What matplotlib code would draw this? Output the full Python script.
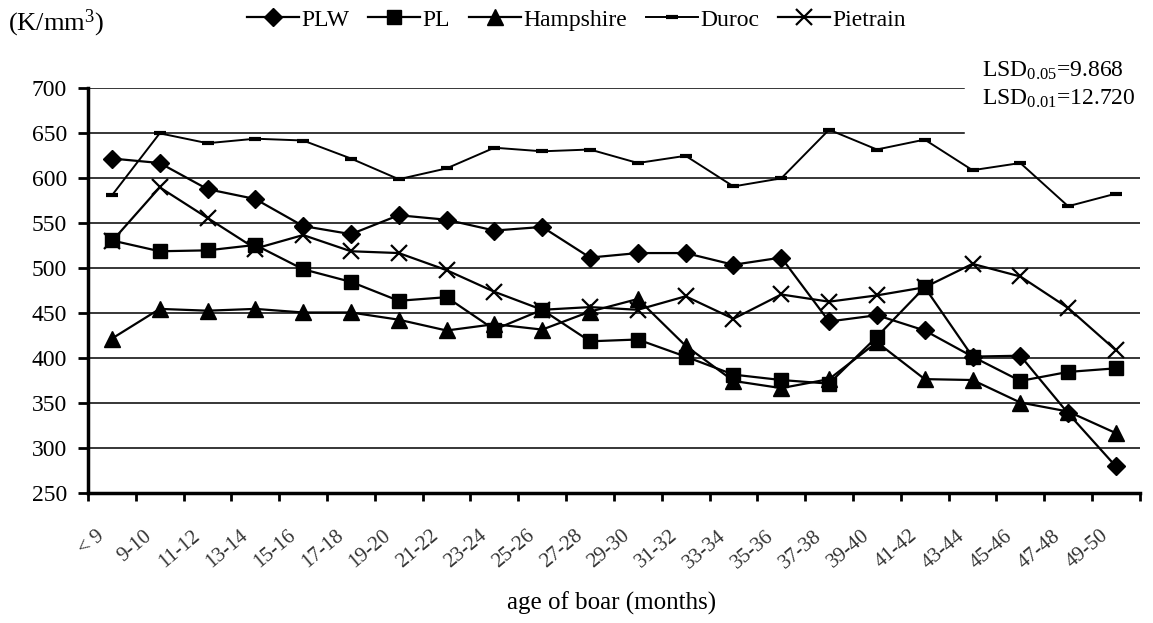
import matplotlib
matplotlib.use("Agg")
import matplotlib.pyplot as plt
from matplotlib.transforms import ScaledTranslation

plt.rcParams['font.family'] = ['Liberation Serif', 'DejaVu Serif']
plt.rcParams['mathtext.fontset'] = 'custom'
plt.rcParams['mathtext.rm'] = 'Liberation Serif'
plt.rcParams['mathtext.it'] = 'Liberation Serif'

ages = ['< 9', '9-10', '11-12', '13-14', '15-16', '17-18', '19-20', '21-22',
        '23-24', '25-26', '27-28', '29-30', '31-32', '33-34', '35-36', '37-38',
        '39-40', '41-42', '43-44', '45-46', '47-48', '49-50']

plw = [622, 617, 588, 577, 547, 538, 559, 554, 542, 546, 512, 517, 517, 504,
       512, 441, 448, 431, 402, 403, 339, 280]
pl = [531, 519, 520, 526, 499, 485, 464, 468, 432, 454, 419, 421, 402, 382,
      376, 372, 424, 479, 402, 375, 385, 389]
hampshire = [422, 455, 453, 455, 451, 451, 443, 431, 438, 432, 452, 466, 414, 375,
             367, 377, 418, 377, 376, 351, 341, 317]
duroc = [581, 650, 639, 644, 642, 622, 599, 611, 634, 630, 632, 617, 625, 591,
         600, 654, 632, 643, 609, 617, 569, 583]
pietrain = [530, 590, 556, 522, 537, 519, 517, 498, 474, 454, 457, 454, 469, 444,
            471, 463, 470, 479, 505, 491, 456, 409]

fig = plt.figure(figsize=(11.53, 6.23), dpi=100)
ax = fig.add_axes([0.0763, 0.2079, 0.9123, 0.6504])

x = list(range(len(ages)))

# horizontal grid lines (drawn by hand so the top ones can stop before the LSD note)
for v in [300, 350, 400, 450, 500, 550, 600]:
    ax.axhline(v, color='black', lw=1.1, zorder=1)
for v in [650, 700]:
    ax.axhline(v, xmin=0, xmax=0.833, color='black', lw=1.1, zorder=1)

ax.plot(x, plw, '-', marker='D', color='black', lw=1.6, ms=9, label='PLW', zorder=3)
ax.plot(x, pl, '-', marker='s', color='black', lw=1.6, ms=10, label='PL', zorder=3)
ax.plot(x, hampshire, '-', marker='^', color='black', lw=1.6, ms=11, label='Hampshire', zorder=3)
ax.plot(x, duroc, '-', marker='_', color='black', lw=1.4, ms=9, mew=3, label='Duroc', zorder=3)
ax.plot(x, pietrain, '-', marker='x', color='black', lw=1.6, ms=12, mew=1.6, label='Pietrain', zorder=3)

ax.set_xlim(-0.5, len(ages) - 0.5)
ax.set_ylim(250, 700)
ax.set_yticks(range(250, 701, 50))
ax.tick_params(axis='y', labelsize=17, length=7, width=2, direction='out', pad=8)

ax.set_xticks(x)
ax.set_xticklabels(ages, rotation=40, ha='right', va='center', rotation_mode='anchor',
                   fontsize=15, color='#333333')
ax.tick_params(axis='x', which='major', length=0, pad=29)
shift = ScaledTranslation(-10 / 100, 0, fig.dpi_scale_trans)
for lab in ax.get_xticklabels():
    lab.set_transform(lab.get_transform() + shift)
ax.set_xticks([i - 0.5 for i in range(len(ages) + 1)], minor=True)
ax.tick_params(axis='x', which='minor', length=6, width=2, direction='out')

for s in ['top', 'right']:
    ax.spines[s].set_visible(False)
for s in ['left', 'bottom']:
    ax.spines[s].set_linewidth(2.5)

fig.text(0.53, 0.032, 'age of boar (months)', fontsize=18, ha='center', va='center')
fig.text(0.007, 0.963, '(K/mm$^3$)', fontsize=19, va='center', ha='left')

fig.text(0.852, 0.886, 'LSD$_{0.05}$=9.868', fontsize=17, va='center', ha='left')
fig.text(0.852, 0.841, 'LSD$_{0.01}$=12.720', fontsize=17, va='center', ha='left')

ax.legend(loc='center', bbox_to_anchor=(0.5, 0.968), bbox_transform=fig.transFigure,
          ncol=5, frameon=False, fontsize=17, handlelength=2.2, handletextpad=0.1,
          columnspacing=0.8, borderaxespad=0)

fig.savefig('out.png', dpi=100)
